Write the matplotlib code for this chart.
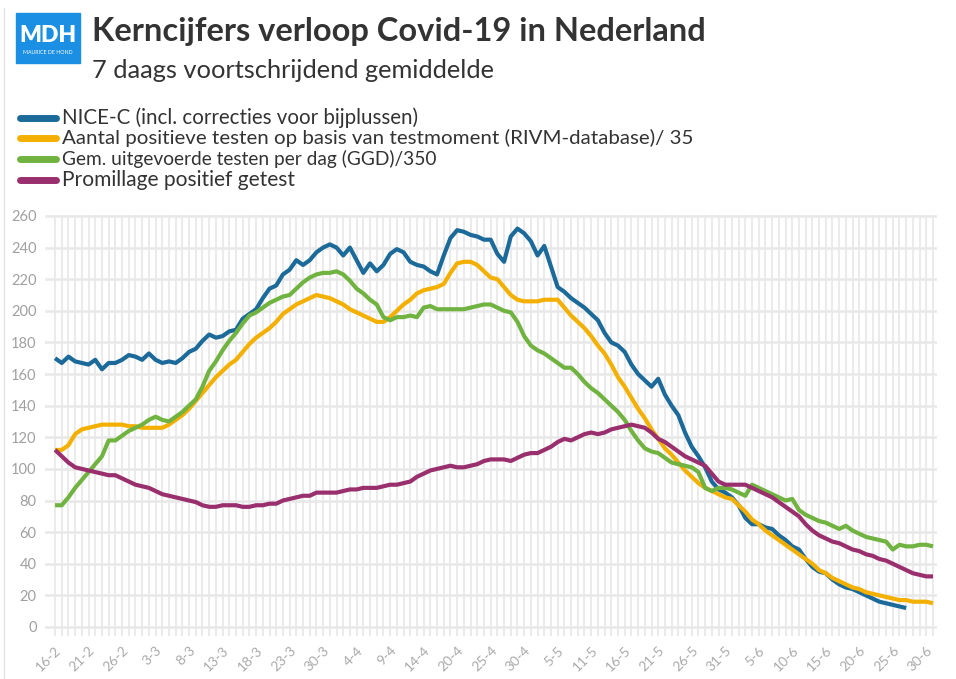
import matplotlib.pyplot as plt
from matplotlib.patches import Rectangle
from matplotlib.lines import Line2D

plt.rcParams['font.family'] = ['Lato', 'DejaVu Sans']

# tick labels (every 5th day in the category axis)
tick_labels = ['16-2', '21-2', '26-2', '3-3', '8-3', '13-3', '18-3', '23-3', '30-3',
               '4-4', '9-4', '14-4', '20-4', '25-4', '30-4', '5-5', '11-5', '16-5',
               '21-5', '26-5', '31-5', '5-6', '10-6', '15-6', '20-6', '25-6', '30-6']

nice_c = [170, 167, 171, 168, 167, 166, 169, 163, 167, 167, 169, 172, 171, 169, 173, 169,
          167, 168, 167, 170, 174, 176, 181, 185, 183, 184, 187, 188, 195, 198, 201, 208,
          214, 216, 223, 226, 232, 229, 232, 237, 240, 242, 240, 235, 240, 232, 224, 230,
          225, 229, 236, 239, 237, 231, 229, 228, 225, 223, 235, 246, 251, 250, 248, 247,
          245, 245, 236, 231, 247, 252, 249, 244, 235, 241, 228, 215, 212, 208, 205, 202,
          198, 194, 186, 180, 178, 174, 166, 160, 156, 152, 157, 147, 140, 134, 123, 114,
          108, 101, 92, 87, 85, 82, 77, 69, 65, 65, 63, 62, 58, 55, 51, 49, 43, 38, 35, 34,
          30, 27, 25, 24, 22, 20, 18, 16, 15, 14, 13, 12]

positief = [112, 112, 115, 122, 125, 126, 127, 128, 128, 128, 128, 127, 127, 126, 126, 126,
            126, 128, 131, 134, 138, 143, 148, 153, 158, 162, 166, 169, 174, 179, 183, 186,
            189, 193, 198, 201, 204, 206, 208, 210, 209, 208, 206, 204, 201, 199, 197, 195,
            193, 193, 196, 200, 204, 207, 211, 213, 214, 215, 217, 224, 230, 231, 231, 229,
            225, 221, 220, 215, 210, 207, 206, 206, 206, 207, 207, 207, 202, 197, 193, 189,
            184, 178, 173, 166, 158, 152, 145, 138, 132, 125, 119, 113, 109, 104, 99, 95,
            91, 88, 86, 84, 82, 81, 77, 73, 68, 65, 61, 58, 55, 52, 49, 46, 43, 40, 36, 34,
            31, 29, 27, 25, 24, 22, 21, 20, 19, 18, 17, 17, 16, 16, 16, 15]

ggd = [77, 77, 82, 88, 93, 98, 103, 108, 118, 118, 121, 124, 126, 128, 131, 133,
       131, 130, 133, 136, 140, 144, 152, 162, 168, 175, 181, 186, 192, 197, 199, 202,
       205, 207, 209, 210, 214, 218, 221, 223, 224, 224, 225, 223, 219, 214, 211, 207,
       204, 196, 194, 196, 196, 197, 196, 202, 203, 201, 201, 201, 201, 201, 202, 203,
       204, 204, 202, 200, 199, 193, 184, 178, 175, 173, 170, 167, 164, 164, 160, 155,
       151, 148, 144, 140, 136, 131, 124, 118, 113, 111, 110, 107, 104, 103, 102, 101,
       98, 88, 86, 88, 88, 87, 85, 83, 90, 88, 86, 84, 82, 80, 81, 74, 71, 69, 67, 66,
       64, 62, 64, 61, 59, 57, 56, 55, 54, 49, 52, 51, 51, 52, 52, 51]

promillage = [112, 108, 104, 101, 100, 99, 98, 97, 96, 96, 94, 92, 90, 89, 88, 86,
              84, 83, 82, 81, 80, 79, 77, 76, 76, 77, 77, 77, 76, 76, 77, 77,
              78, 78, 80, 81, 82, 83, 83, 85, 85, 85, 85, 86, 87, 87, 88, 88,
              88, 89, 90, 90, 91, 92, 95, 97, 99, 100, 101, 102, 101, 101, 102, 103,
              105, 106, 106, 106, 105, 107, 109, 110, 110, 112, 114, 117, 119, 118, 120, 122,
              123, 122, 123, 125, 126, 127, 128, 127, 126, 123, 119, 117, 114, 111, 108, 106,
              104, 102, 97, 92, 90, 90, 90, 90, 88, 86, 84, 82, 79, 76, 73, 70, 65, 61, 58, 56,
              54, 53, 51, 49, 48, 46, 45, 43, 42, 40, 38, 36, 34, 33, 32, 32]

series = [
    ('NICE-C (incl. correcties voor bijplussen)', nice_c, '#1b6a99'),
    ('Aantal positieve testen op basis van testmoment (RIVM-database)/ 35', positief, '#f4b000'),
    ('Gem. uitgevoerde testen per dag (GGD)/350', ggd, '#71b340'),
    ('Promillage positief getest', promillage, '#9a2f6e'),
]

W, H = 956, 679
fig = plt.figure(figsize=(W / 100, H / 100), dpi=100)


def px(x, y):
    return x / W, 1 - y / H


ax = fig.add_axes([45 / W, 1 - 636 / H, (937 - 45) / W, (636 - 215) / H])

for name, vals, col in series:
    ax.plot(range(len(vals)), vals, color=col, lw=3, solid_capstyle='butt', zorder=3)

ax.set_xlim(-1.5, 131.6)
ax.set_ylim(-5.7, 260.6)
ax.set_xticks(range(0, 5 * len(tick_labels), 5))
ax.set_xticklabels(tick_labels, rotation=45, ha='right', rotation_mode='anchor',
                   color='#aaaaaa', fontsize=10)
ax.set_xticks(range(0, 132), minor=True)
ax.set_yticks(range(0, 261, 20))
ax.set_yticklabels([str(v) for v in range(0, 261, 20)], color='#a0a0a0', fontsize=10.5)
ax.tick_params(axis='both', which='both', length=0)
ax.tick_params(axis='x', pad=6)
ax.tick_params(axis='y', pad=6)
ax.grid(True, axis='x', which='both', color='#ebebeb', lw=1.5, zorder=0)
ax.grid(True, axis='y', which='major', color='#e8e8e8', lw=1.8, zorder=0)
ax.set_axisbelow(True)
for sp in ax.spines.values():
    sp.set_visible(False)

# thin left border of the card
fig.add_artist(Line2D([4 / W, 4 / W], [0, 1 - 8 / H], color='#e4e4e4', lw=1))

# logo
x0, y0 = px(16, 63)
fig.add_artist(Rectangle((x0, y0), 64 / W, 50 / H, color='#1a8fe3', transform=fig.transFigure))
fig.text(*px(48, 35), 'MDH', color='white', fontsize=16.5, fontweight='heavy',
         ha='center', va='center')
fig.text(*px(48, 53), 'MAURICE DE HOND', color='white', fontsize=3.8,
         ha='center', va='center')


def fit_text(x, y, s, width, **kw):
    t = fig.text(x, y, s, **kw)
    r = fig.canvas.get_renderer()
    w = t.get_window_extent(r).width
    t.set_fontsize(t.get_fontsize() * width / w)
    return t


fit_text(*px(92, 41), 'Kerncijfers verloop Covid-19 in Nederland', 614,
         fontsize=22, fontweight='bold', color='#333333', va='baseline')
fit_text(*px(92, 78), '7 daags voortschrijdend gemiddelde', 405,
         fontsize=16, color='#333333', va='baseline')

# legend
leg_y = [118, 138, 159, 180]
leg_w = [355, 628, 373, 233]
for (name, vals, col), yy, ww in zip(series, leg_y, leg_w):
    fig.add_artist(Line2D([20 / W, 56 / W], [1 - yy / H] * 2, color=col, lw=5,
                          solid_capstyle='round'))
    fit_text(*px(62, yy), name, ww, fontsize=13, color='#333333', va='center')

fig.savefig('out.png', dpi=100)
